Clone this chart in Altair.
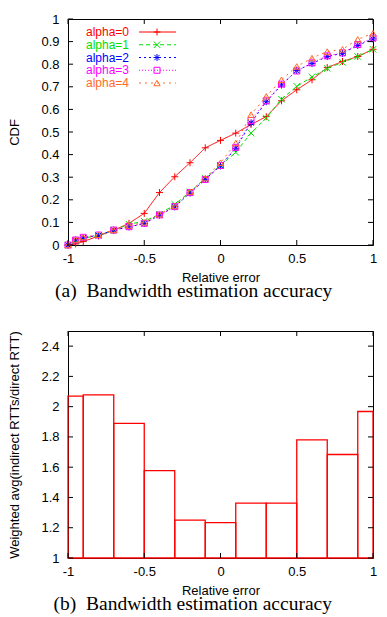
import altair as alt
import pandas as pd

# ---------------- data ----------------
rel_err = [-1, -0.95, -0.9, -0.8, -0.7, -0.6, -0.5, -0.4, -0.3, -0.2, -0.1,
           0, 0.1, 0.2, 0.3, 0.4, 0.5, 0.6, 0.7, 0.8, 0.9, 1.0]
cdf_alpha0 = [0, 0.005, 0.015, 0.04, 0.065, 0.096, 0.14, 0.232, 0.302, 0.364, 0.43,
              0.463, 0.495, 0.533, 0.568, 0.638, 0.687, 0.731, 0.785, 0.812, 0.834, 0.866]
cdf_alpha1 = [0, 0.02, 0.03, 0.042, 0.066, 0.092, 0.105, 0.136, 0.18, 0.235, 0.295,
              0.352, 0.41, 0.495, 0.562, 0.645, 0.702, 0.744, 0.781, 0.808, 0.834, 0.866]
cdf_alpha2 = [0, 0.022, 0.032, 0.043, 0.066, 0.08, 0.095, 0.132, 0.169, 0.23, 0.29,
              0.35, 0.428, 0.54, 0.634, 0.708, 0.772, 0.803, 0.834, 0.848, 0.883, 0.912]
cdf_alpha3 = [0, 0.022, 0.034, 0.044, 0.066, 0.081, 0.096, 0.133, 0.17, 0.232, 0.29,
              0.352, 0.432, 0.551, 0.638, 0.712, 0.77, 0.806, 0.837, 0.85, 0.887, 0.916]
cdf_alpha4 = [0, 0.024, 0.035, 0.045, 0.067, 0.086, 0.1, 0.136, 0.173, 0.236, 0.296,
              0.364, 0.451, 0.577, 0.658, 0.731, 0.79, 0.827, 0.856, 0.866, 0.91, 0.937]
series_names = ["alpha=0", "alpha=1", "alpha=2", "alpha=3", "alpha=4"]
series_values = [cdf_alpha0, cdf_alpha1, cdf_alpha2, cdf_alpha3, cdf_alpha4]

bin_start = [-1, -0.9, -0.7, -0.5, -0.3, -0.1, 0.1, 0.3, 0.5, 0.7, 0.9]
bin_end = [-0.9, -0.7, -0.5, -0.3, -0.1, 0.1, 0.3, 0.5, 0.7, 0.9, 1.0]
rtt_ratio = [2.07, 2.078, 1.89, 1.577, 1.25, 1.234, 1.362, 1.362, 1.78, 1.684, 1.968]

x_ticks = [-1, -0.5, 0, 0.5, 1]
cdf_ticks = [0, 0.1, 0.2, 0.3, 0.4, 0.5, 0.6, 0.7, 0.8, 0.9, 1]
ratio_ticks = [1, 1.2, 1.4, 1.6, 1.8, 2, 2.2, 2.4]

caption_a = "(a)\u00a0 Bandwidth estimation accuracy"
caption_b = "(b)\u00a0 Bandwidth estimation accuracy"

# ---------------- styles ----------------
FONT = "Liberation Sans"
SERIF = "Liberation Serif"
W = 305
H1 = 226
H2 = 227
TICK = 5
series_colors = ["#ff0000", "#00e000", "#0000ff", "#ff00ff", "#ff6a28"]
series_dash = [[1, 0], [4, 3], [2, 3], [1, 2], [2, 4]]
PLUS = "M-1,0L1,0M0,-1L0,1"
CROSS = "M-1,-1L1,1M-1,1L1,-1"
STAR = "M-1,0L1,0M0,-1L0,1M-0.75,-0.75L0.75,0.75M-0.75,0.75L0.75,-0.75"
series_shapes = [PLUS, CROSS, STAR, "square", "triangle-up"]
series_sizes = [49, 42, 49, 36, 40]

MINUS_FIX = "replace(datum.label, '\u2212', '-')"

rows = []
for name, vals in zip(series_names, series_values):
    for xv, yv in zip(rel_err, vals):
        rows.append({"series": name, "err": xv, "cdf": yv})
cdf_df = pd.DataFrame(rows)

x_scale = alt.Scale(domain=[-1, 1], nice=False, zero=False)
y1_scale = alt.Scale(domain=[0, 1], nice=False, zero=False)
y2_scale = alt.Scale(domain=[1, 2.5], nice=False, zero=False)

X_AXIS = alt.Axis(values=x_ticks, ticks=False, domain=False, grid=False, format="~g",
                  labelPadding=7, labelFlush=False, labelExpr=MINUS_FIX,
                  title="Relative error", titlePadding=6)
Y1_AXIS = alt.Axis(values=cdf_ticks, ticks=False, domain=False, grid=False, format="~g",
                   labelPadding=9, title="CDF", titlePadding=19)
Y2_AXIS = alt.Axis(values=ratio_ticks, ticks=False, domain=False, grid=False, format="~g",
                   labelPadding=9, title="Weighted avg(indirect RTTs/direct RTT)",
                   titlePadding=19, titleLimit=600)


def inward_ticks(yvals, y_scale, y_axis, height):
    ydf = pd.DataFrame({"v": yvals})
    xdf = pd.DataFrame({"v": x_ticks})
    left = alt.Chart(ydf).mark_rule(color="black", strokeWidth=1).encode(
        y=alt.Y("v:Q", scale=y_scale, axis=y_axis),
        x=alt.value(0), x2=alt.value(TICK))
    right = alt.Chart(ydf).mark_rule(color="black", strokeWidth=1).encode(
        y=alt.Y("v:Q", scale=y_scale, axis=y_axis),
        x=alt.value(W - TICK), x2=alt.value(W))
    bottom = alt.Chart(xdf).mark_rule(color="black", strokeWidth=1).encode(
        x=alt.X("v:Q", scale=x_scale, axis=X_AXIS),
        y=alt.value(height - TICK), y2=alt.value(height))
    top = alt.Chart(xdf).mark_rule(color="black", strokeWidth=1).encode(
        x=alt.X("v:Q", scale=x_scale, axis=X_AXIS),
        y=alt.value(0), y2=alt.value(TICK))
    return [left, right, bottom, top]


# ---------------- top panel: CDF ----------------
layers = []
for i, name in enumerate(series_names):
    base = alt.Chart(cdf_df).transform_filter(alt.datum.series == name)
    enc = dict(
        x=alt.X("err:Q", scale=x_scale, axis=X_AXIS),
        y=alt.Y("cdf:Q", scale=y1_scale, axis=Y1_AXIS),
    )
    line = base.mark_line(color=series_colors[i], strokeWidth=1,
                          strokeDash=series_dash[i]).encode(**enc)
    pts = base.mark_point(shape=series_shapes[i], filled=False, size=series_sizes[i],
                          color=series_colors[i], strokeWidth=1, opacity=1).encode(**enc)
    layers += [line, pts]
layers += inward_ticks(cdf_ticks, y1_scale, Y1_AXIS, H1)

# legend (gnuplot style: label, then line sample with marker)
LEG_Y0 = 13
LEG_DY = 12.75
for i, name in enumerate(series_names):
    ry = LEG_Y0 + i * LEG_DY
    ldf = pd.DataFrame({"label": [name]})
    layers.append(alt.Chart(ldf).mark_text(
        align="right", baseline="middle", color=series_colors[i],
        font=FONT, fontSize=12).encode(text="label:N", x=alt.value(61), y=alt.value(ry)))
    layers.append(alt.Chart(ldf).mark_rule(
        color=series_colors[i], strokeWidth=1, strokeDash=series_dash[i]).encode(
        x=alt.value(71), x2=alt.value(108), y=alt.value(ry)))
    layers.append(alt.Chart(ldf).mark_point(
        shape=series_shapes[i], filled=False, size=series_sizes[i],
        color=series_colors[i], strokeWidth=1, opacity=1).encode(
        x=alt.value(89), y=alt.value(ry)))

CAP = dict(orient="bottom", anchor="middle", frame="bounds", font=SERIF, fontSize=19.5,
           fontWeight="normal", color="black", offset=-2)

top = alt.layer(*layers).properties(
    width=W, height=H1, title=alt.TitleParams(caption_a, **CAP))

# ---------------- bottom panel: histogram ----------------
bar_df = pd.DataFrame({"start": bin_start, "end": bin_end, "ratio": rtt_ratio})
bars = alt.Chart(bar_df).mark_rect(fillOpacity=0, stroke="#ff0000", strokeWidth=1.3).encode(
    x=alt.X("start:Q", scale=x_scale, axis=X_AXIS),
    x2="end:Q",
    y=alt.Y("ratio:Q", scale=y2_scale, axis=Y2_AXIS),
    y2=alt.datum(1),
)
bottom = alt.layer(bars, *inward_ticks(ratio_ticks, y2_scale, Y2_AXIS, H2)).properties(
    width=W, height=H2, title=alt.TitleParams(caption_b, **CAP))

chart = alt.vconcat(top, bottom, spacing=29).properties(
    padding={"left": 0, "top": 4, "right": 0, "bottom": 0}
).configure_view(stroke="black", strokeWidth=1).configure_axis(
    labelFont=FONT, labelFontSize=13, labelColor="black",
    titleFont=FONT, titleFontSize=13, titleColor="black", titleFontWeight="normal"
)

chart.save("out.html", embed_options={"renderer": "svg", "actions": False})
